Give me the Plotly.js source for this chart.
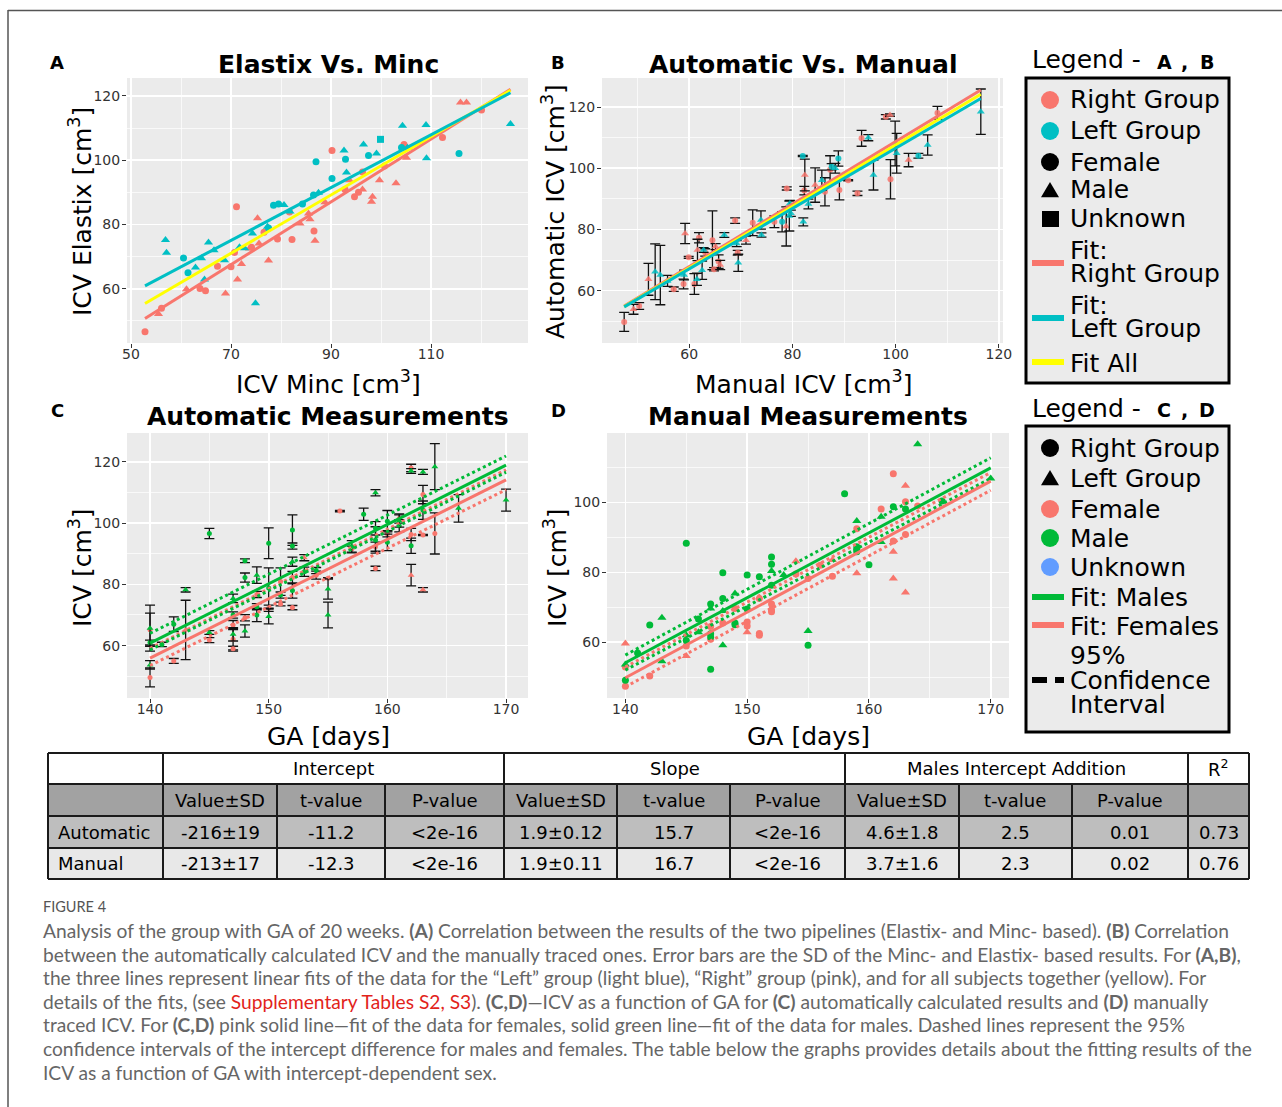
<!DOCTYPE html>
<html><head><meta charset="utf-8">
<script src="https://cdn.plot.ly/plotly-3.0.1.min.js"></script>
<style>body{margin:0;background:#fff}#chart{width:1282px;height:1107px}</style>
</head><body><div id="chart"></div>
<script>
// ---------------- DATA ----------------
// Panel A: [ICV Minc, ICV Elastix]
const aRightFemale = [[52.8,46.6],[56.1,53.9],[63.8,60.1],[64.9,59.4],[67.3,67.0],[70.0,66.8],[71.1,85.5],[70.7,71.3],[74.1,72.9],[76.6,77.6],[79.3,75.5],[81.7,83.9],[82.2,75.3],[86.6,78.0],[90.2,103.0],[92.8,90.9],[94.7,88.6],[95.5,90.0],[96.3,96.3],[100.7,98.2],[104.6,104.9],[112.3,107.1],[120.1,115.6]];
const aRightMale = [[55.5,52.1],[61.1,59.8],[68.9,58.5],[71.3,62.9],[72.1,67.7],[73.7,72.5],[75.3,81.9],[75.6,74.1],[77.5,68.8],[83.8,80.3],[85.5,83.4],[85.8,81.6],[86.8,74.9],[88.8,86.9],[93.7,93.8],[96.3,90.9],[98.3,88.6],[98.1,87.1],[99.7,93.8],[103.0,92.8],[105.1,100.8],[115.9,118.0],[117.1,118.0]];
const aLeftFemale = [[60.5,69.6],[61.4,65.0],[77.5,78.9],[78.5,86.0],[79.5,86.4],[84.3,86.4],[86.5,89.2],[87.0,99.5],[90.2,94.3],[92.9,100.3],[97.5,101.5],[104.1,104.0],[115.6,102.1]];
const aLeftMale = [[56.9,75.2],[57.1,71.2],[62.9,66.6],[64.1,69.5],[64.7,62.9],[65.5,74.4],[66.6,72.0],[68.7,68.9],[71.7,72.9],[72.7,72.6],[74.3,77.2],[74.9,55.5],[77.3,79.3],[80.6,86.1],[81.8,84.0],[87.5,89.9],[92.6,103.0],[93.1,96.2],[96.5,104.9],[99.1,102.1],[104.3,110.7],[105.3,103.9],[109.0,111.0],[109.1,100.6],[125.9,111.3]];
const aLeftUnknown = [[99.9,106.5]];
const aFitX = [52.8,125.9], aFitRight = [50.7,122.1], aFitLeft = [60.9,121.0], aFitAll = [55.4,121.8];

// Panel B: [Manual ICV, Automatic ICV, SD]
const bRightFemale = [[47.4,49.8,3.1],[50.3,55.0,1.1],[57.0,60.5,0.7],[58.9,62.2,1.6],[59.9,70.9,0.3],[61.0,62.2,3.4],[61.9,77.3,1.7],[63.1,72.5,1.2],[64.5,76.5,9.6],[64.8,67.0,0.5],[65.7,69.5,2.2],[68.9,82.9,0.9],[69.4,72.4,0.8],[72.3,82.2,4.2],[76.5,82.5,1.9],[78.9,93.4,0.5],[82.3,92.7,1.4],[86.3,92.3,4.6],[87.3,99.5,4.6],[89.1,92.9,3.2],[90.8,96.1,0.2],[92.6,91.8,0.7],[93.4,109.8,2.6],[98.1,116.8,0.7],[99.0,96.4,6.4],[108.1,118.1,2.1]];
const bRightMale = [[49.2,53.9,1.6],[52.1,63.7,5.2],[59.2,78.7,3.3],[61.6,73.3,3.5],[65.1,74.4,1.0],[66.0,68.4,1.5],[71.0,76.5,1.3],[78.8,81.0,6.4],[82.4,97.8,5.2],[84.4,94.5,5.6],[98.9,117.4,0.4],[102.5,102.7,2.2]];
const bLeftFemale = [[78.0,82.5,3.3],[82.0,104.0,0.2],[87.6,100.5,1.0],[88.9,103.2,2.5],[104.4,104.1,0.8]];
const bLeftMale = [[53.4,66.2,9.1],[54.4,65.1,9.7],[55.8,63.2,1.8],[59.0,65.1,1.6],[61.5,63.7,2.0],[62.5,66.7,3.0],[62.8,73.3,0.8],[66.8,78.2,0.8],[69.2,75.4,1.0],[69.5,69.1,2.8],[73.9,83.1,3.0],[74.0,78.2,0.7],[79.4,84.4,4.9],[79.5,88.5,1.0],[79.7,85.3,1.0],[82.1,82.5,1.3],[83.1,88.3,1.6],[85.7,96.1,3.3],[88.3,100.0,1.6],[94.7,110.0,1.0],[95.7,97.8,4.9],[99.9,108.1,7.3],[100.2,104.9,6.5],[106.2,107.6,3.3],[116.5,118.5,7.4]];
const bFitX = [47.4,116.5], bFitRight = [55.0,125.6], bFitLeft = [54.7,122.8], bFitAll = [54.8,124.2];

// Panel C: [GA days, automatic ICV, SD]
const cRightFemale = [[140,65.2,5.4],[140,49.6,3.1],[142,55.0,0.8],[145,61.8,0.8],[147,66.7,1.5],[147,62.1,3.5],[147,59.0,0.8],[148,69.1,1.0],[149,76.7,1.0],[150,72.2,1.0],[151,80.9,4.5],[151,73.6,0.6],[152,82.2,2.0],[152,72.4,0.7],[154,83.0,1.3],[155,82.0,0.2],[156,103.9,0.2],[157,91.5,1.0],[159,85.2,0.7],[159,92.3,1.5],[160,96.5,1.0],[161,101.5,1.5],[162,118.0,1.2],[162,96.3,2.0],[163,109.3,3.0],[163,96.1,0.2],[164,96.6,6.7]];
const cRightMale = [[140,61.0,0.8],[141,60.4,0.7],[142,67.0,2.4],[145,96.6,1.7],[147,70.0,1.0],[148,87.7,0.6],[148,82.2,1.5],[149,70.0,2.2],[149,72.7,1.0],[150,93.4,5.0],[150,78.8,6.6],[151,76.5,1.0],[152,97.7,5.0],[152,92.5,1.0],[152,78.0,2.5],[153,84.1,1.5],[154,84.5,1.0],[157,92.3,2.0],[158,102.9,2.0],[159,94.5,4.3],[159,98.3,2.2],[160,100.6,3.5],[160,93.7,2.7],[161,99.1,2.0],[162,92.6,2.5],[163,104.2,3.0]];
const cLeftFemale = [[143,65.1,9.7],[153,88.7,1.0],[162,83.0,3.5],[163,78.2,0.7]];
const cLeftMale = [[140,65.7,7.5],[140,53.7,1.4],[143,78.2,0.7],[145,64.3,0.6],[147,75.4,1.4],[147,63.7,2.2],[148,64.8,2.0],[149,83.0,2.7],[150,69.5,2.4],[152,87.4,1.5],[155,78.5,3.3],[155,70.0,4.2],[159,109.9,1.0],[161,100.7,2.0],[162,117.0,0.8],[163,116.7,0.8],[164,118.4,7.5],[166,104.8,4.5],[170,107.5,3.6]];
const cFitX = [140,170], cFitMale = [60.8,118.9], cFitFemale = [55.9,114.1];
const cMaleHi = [64.0,121.9], cMaleLo = [58.6,116.6], cFemaleHi = [59.1,117.4], cFemaleLo = [53.5,110.9];

// Panel D: [GA days, manual ICV]
const dRightFemale = [[140,52.9],[140,47.4],[142,50.3],[145,58.9],[147,60.8],[147,64.5],[148,65.5],[149,69.6],[150,65.8],[150,64.6],[151,62.5],[151,62.0],[151,72.5],[152,70.9],[152,69.2],[152,68.7],[154,79.5],[155,78.2],[156,82.0],[157,78.9],[159,92.5],[161,98.1],[162,108.2],[162,89.0],[163,100.2],[163,90.8],[164,99.0]];
const dRightMale = [[140,49.1],[141,56.9],[142,64.9],[145,88.3],[145,60.5],[146,66.6],[147,70.9],[147,62.4],[147,61.5],[147,52.2],[148,79.9],[148,72.5],[149,65.5],[149,65.0],[150,79.2],[150,69.5],[151,78.7],[152,84.4],[152,82.3],[152,76.3],[155,59.1],[158,102.5],[159,87.3],[159,86.5],[159,85.9],[160,82.2],[162,98.8],[163,98.1],[166,100.4]];
const dLeftFemale = [[140,59.6],[145,56.0],[150,62.8],[154,83.2],[157,83.5],[159,79.7],[162,85.9],[162,78.2],[163,104.8],[163,74.2]];
const dLeftMale = [[140,53.6],[143,67.0],[143,54.5],[145,62.0],[146,62.8],[147,69.6],[148,68.9],[148,59.1],[149,73.9],[152,80.4],[153,79.2],[155,63.2],[159,94.7],[161,95.9],[161,88.7],[164,116.7],[170,106.9]];
const dFitX = [140,170], dFitMale = [54.1,109.9], dFitFemale = [49.8,106.1];
const dMaleHi = [56.3,112.8], dMaleLo = [52.0,106.9], dFemaleHi = [52.9,108.6], dFemaleLo = [47.2,103.5];

// Table
const tableGroups = ['Intercept','Slope','Males Intercept Addition','R<sup>2</sup>'];
const tableSubHeads = ['Value±SD','t-value','P-value','Value±SD','t-value','P-value','Value±SD','t-value','P-value',''];
const tableRowNames = ['Automatic','Manual'];
const tableAutomatic = ['-216±19','-11.2','<2e-16','1.9±0.12','15.7','<2e-16','4.6±1.8','2.5','0.01','0.73'];
const tableManual = ['-213±17','-12.3','<2e-16','1.9±0.11','16.7','<2e-16','3.7±1.6','2.3','0.02','0.76'];

const legendABLabels = ['Right Group','Left Group','Female','Male','Unknown','Fit:','Right Group','Fit:','Left Group','Fit All'];
const legendCDLabels = ['Right Group','Left Group','Female','Male','Unknown','Fit: Males','Fit: Females','95%','Confidence','Interval'];

const captionLines = [
 'Analysis of the group with GA of 20 weeks. <b>(A)</b> Correlation between the results of the two pipelines (Elastix- and Minc- based). <b>(B)</b> Correlation',
 'between the automatically calculated ICV and the manually traced ones. Error bars are the SD of the Minc- and Elastix- based results. For <b>(A,B)</b>,',
 'the three lines represent linear fits of the data for the “Left” group (light blue), “Right” group (pink), and for all subjects together (yellow). For',
 'details of the fits, (see <span style="color:#e2231a">Supplementary Tables S2, S3</span>). <b>(C,D)</b>—ICV as a function of GA for <b>(C)</b> automatically calculated results and <b>(D)</b> manually',
 'traced ICV. For <b>(C,D)</b> pink solid line—fit of the data for females, solid green line—fit of the data for males. Dashed lines represent the 95%',
 'confidence intervals of the intercept difference for males and females. The table below the graphs provides details about the fitting results of the',
 'ICV as a function of GA with intercept-dependent sex.'
];

// ---------------- STYLE / LAYOUT ----------------
const W = 1282, H = 1107;
const PX = v => v / W, PY = v => 1 - v / H;
const F = 'DejaVu Sans, Verdana, sans-serif';
const RED = '#F8766D', CYAN = '#00BFC4', YEL = '#FFFF00', GRN = '#00BA38', BLUE = '#619CFF';

const traces = [];
function pts(arr, xa, ya, color, symbol, size, withErr, opacity) {
  const t = {
    type: 'scatter', mode: 'markers', xaxis: xa, yaxis: ya, showlegend: false, hoverinfo: 'x+y',
    x: arr.map(p => p[0]), y: arr.map(p => p[1]),
    marker: {color: color, symbol: symbol, size: size, opacity: opacity || 1, line: {width: 0}}
  };
  if (withErr) t.error_y = {type: 'data', array: arr.map(p => p[2]), visible: true, color: '#111', thickness: 1.3, width: 5};
  traces.push(t);
}
function line(xs, ys, xa, ya, color, dash, width) {
  traces.push({type: 'scatter', mode: 'lines', x: xs, y: ys, xaxis: xa, yaxis: ya, showlegend: false, hoverinfo: 'skip',
    line: {color: color, width: width || 3, dash: dash || 'solid'}});
}

// A
pts(aRightFemale, 'x', 'y', RED, 'circle', 7);
pts(aRightMale, 'x', 'y', RED, 'triangle-up', 8);
pts(aLeftFemale, 'x', 'y', CYAN, 'circle', 7);
pts(aLeftMale, 'x', 'y', CYAN, 'triangle-up', 8);
pts(aLeftUnknown, 'x', 'y', CYAN, 'square', 7);
line(aFitX, aFitRight, 'x', 'y', RED);
line(aFitX, aFitAll, 'x', 'y', YEL);
line(aFitX, aFitLeft, 'x', 'y', CYAN);
// B
pts(bRightFemale, 'x2', 'y2', RED, 'circle', 6, true, 0.85);
pts(bRightMale, 'x2', 'y2', RED, 'triangle-up', 7, true, 0.85);
pts(bLeftFemale, 'x2', 'y2', CYAN, 'circle', 6, true, 0.85);
pts(bLeftMale, 'x2', 'y2', CYAN, 'triangle-up', 7, true, 0.85);
line(bFitX, bFitRight, 'x2', 'y2', RED);
line(bFitX, bFitAll, 'x2', 'y2', YEL);
line(bFitX, bFitLeft, 'x2', 'y2', CYAN);
// C
pts(cRightFemale, 'x3', 'y3', RED, 'circle', 5, true);
pts(cRightMale, 'x3', 'y3', GRN, 'circle', 5, true);
pts(cLeftFemale, 'x3', 'y3', RED, 'triangle-up', 6, true);
pts(cLeftMale, 'x3', 'y3', GRN, 'triangle-up', 6, true);
line(cFitX, cFemaleHi, 'x3', 'y3', RED, 'dot', 3);
line(cFitX, cFemaleLo, 'x3', 'y3', RED, 'dot', 3);
line(cFitX, cMaleHi, 'x3', 'y3', GRN, 'dot', 3);
line(cFitX, cMaleLo, 'x3', 'y3', GRN, 'dot', 3);
line(cFitX, cFitFemale, 'x3', 'y3', RED);
line(cFitX, cFitMale, 'x3', 'y3', GRN);
// D
pts(dRightFemale, 'x4', 'y4', RED, 'circle', 7);
pts(dRightMale, 'x4', 'y4', GRN, 'circle', 7);
pts(dLeftFemale, 'x4', 'y4', RED, 'triangle-up', 8);
pts(dLeftMale, 'x4', 'y4', GRN, 'triangle-up', 8);
line(dFitX, dFemaleHi, 'x4', 'y4', RED, 'dot', 3);
line(dFitX, dFemaleLo, 'x4', 'y4', RED, 'dot', 3);
line(dFitX, dMaleHi, 'x4', 'y4', GRN, 'dot', 3);
line(dFitX, dMaleLo, 'x4', 'y4', GRN, 'dot', 3);
line(dFitX, dFitFemale, 'x4', 'y4', RED);
line(dFitX, dFitMale, 'x4', 'y4', GRN);

function ax(l, r, range, tick0, dtick, mtick0, mdtick, anchor) {
  return {domain: [PX(l), PX(r)], range: range, tick0: tick0, dtick: dtick, tickmode: 'linear',
    showgrid: true, gridcolor: '#fff', gridwidth: 1.6, zeroline: false, showline: false,
    ticks: 'outside', ticklen: 4, tickcolor: '#333', tickwidth: 1, ticklabelstandoff: -6,
    tickfont: {family: F, size: 14, color: '#333'}, anchor: anchor, fixedrange: true,
    minor: {tick0: mtick0, dtick: mdtick, showgrid: true, gridcolor: '#fff', gridwidth: 0.7, ticks: ''}};
}
function ay(t, b, range, tick0, dtick, mtick0, mdtick, anchor) {
  const o = ax(0, 1, range, tick0, dtick, mtick0, mdtick, anchor);
  o.domain = [PY(b), PY(t)];
  o.ticklabelstandoff = -1;
  return o;
}

const layout = {
  width: W, height: H, margin: {l: 0, r: 0, t: 0, b: 0}, paper_bgcolor: '#fff', plot_bgcolor: '#EBEBEB',
  showlegend: false, hovermode: 'closest',
  xaxis: ax(127, 528, [49.2, 129.4], 50, 20, 50, 10, 'y'),
  yaxis: ay(78, 343, [43.1, 125.6], 60, 20, 60, 10, 'x'),
  xaxis2: ax(602, 1003, [43.1, 120.8], 60, 20, 60, 10, 'y2'),
  yaxis2: ay(78, 343, [42.9, 129.5], 60, 20, 60, 10, 'x2'),
  xaxis3: ax(127, 528, [138.06, 171.85], 140, 10, 140, 5, 'y3'),
  yaxis3: ay(433, 698, [42.9, 129.4], 60, 20, 60, 10, 'x3'),
  xaxis4: ax(607, 1009, [138.49, 171.5], 140, 10, 140, 5, 'y4'),
  yaxis4: ay(433, 698, [44, 119.9], 60, 20, 60, 10, 'x4'),
  shapes: [], annotations: []
};
const S = layout.shapes, A = layout.annotations;
function txt(x, y, text, size, opts) {
  A.push(Object.assign({xref: 'paper', yref: 'paper', x: PX(x), y: PY(y), text: text, showarrow: false,
    xanchor: 'center', yanchor: 'middle', font: {family: F, size: size, color: '#000'}}, opts || {}));
}
function rect(x0, y0, x1, y1, fill, lc, lw) {
  S.push({type: 'rect', xref: 'paper', yref: 'paper', x0: PX(x0), x1: PX(x1), y0: PY(y1), y1: PY(y0),
    fillcolor: fill, line: {color: lc || 'rgba(0,0,0,0)', width: lw || 0}, layer: 'above'});
}
function seg(x0, y0, x1, y1, color, w, dash) {
  S.push({type: 'line', xref: 'paper', yref: 'paper', x0: PX(x0), x1: PX(x1), y0: PY(y0), y1: PY(y1),
    line: {color: color, width: w, dash: dash || 'solid'}, layer: 'above'});
}
function circ(cx, cy, r, color) {
  S.push({type: 'circle', xref: 'paper', yref: 'paper', x0: PX(cx - r), x1: PX(cx + r), y0: PY(cy + r), y1: PY(cy - r),
    fillcolor: color, line: {width: 0}, layer: 'above'});
}
function tri(cx, cy, r, color) {
  S.push({type: 'path', xref: 'paper', yref: 'paper', fillcolor: color, line: {width: 0}, layer: 'above',
    path: `M ${PX(cx - r)} ${PY(cy + r * 0.8)} L ${PX(cx + r)} ${PY(cy + r * 0.8)} L ${PX(cx)} ${PY(cy - r * 0.9)} Z`});
}

// page frame
seg(8, 10.5, 1282, 10.5, '#555', 1.5);
seg(8, 10, 8, 1107, '#555', 1.5);

// panel letters and titles
txt(57, 62, '<b>A</b>', 18); txt(558, 62, '<b>B</b>', 18);
txt(57, 410, '<b>C</b>', 18); txt(558, 410, '<b>D</b>', 18);
txt(328, 64, '<b>Elastix Vs. Minc</b>', 25);
txt(803, 64, '<b>Automatic Vs. Manual</b>', 25);
txt(328, 417, '<b>Automatic Measurements</b>', 25);
txt(808, 417, '<b>Manual Measurements</b>', 25);
// axis titles
txt(328, 382, 'ICV Minc [cm<sup>3</sup>]', 25);
txt(80, 212, 'ICV Elastix [cm<sup>3</sup>]', 25, {textangle: -90});
txt(803, 382, 'Manual ICV [cm<sup>3</sup>]', 25);
txt(553, 212, 'Automatic ICV [cm<sup>3</sup>]', 25, {textangle: -90});
txt(328, 736, 'GA [days]', 25);
txt(80, 568, 'ICV [cm<sup>3</sup>]', 25, {textangle: -90});
txt(808, 736, 'GA [days]', 25);
txt(555, 568, 'ICV [cm<sup>3</sup>]', 25, {textangle: -90});

// legend A,B
txt(1030, 60, 'Legend -', 25, {xanchor: 'left'});
txt(1164, 62, '<b>A</b>', 19); txt(1184, 62, '<b>,</b>', 19); txt(1207, 62, '<b>B</b>', 19);
rect(1026, 78, 1229, 383, '#EBEBEB', '#000', 3);
const abY = [100, 131, 162, 190, 219, 250, 274, 305, 328, 363];
legendABLabels.forEach((t, i) => txt(1068, abY[i], t, 25, {xanchor: 'left'}));
circ(1050, 100, 9, RED); circ(1050, 131, 9, CYAN); circ(1050, 162, 9, '#000');
tri(1050, 190, 9, '#000'); rect(1042, 211, 1059, 227, '#000');
seg(1032, 263, 1064, 263, RED, 6); seg(1032, 318, 1064, 318, CYAN, 6); seg(1032, 362, 1064, 362, YEL, 6);

// legend C,D
txt(1030, 408, 'Legend -', 25, {xanchor: 'left'});
txt(1164, 410, '<b>C</b>', 19); txt(1184, 410, '<b>,</b>', 19); txt(1207, 410, '<b>D</b>', 19);
rect(1026, 426, 1229, 732, '#EBEBEB', '#000', 3);
const cdY = [448, 478, 509, 538, 567, 597, 626, 655, 680, 704];
legendCDLabels.forEach((t, i) => txt(1068, cdY[i], t, 25, {xanchor: 'left'}));
circ(1050, 448, 9, '#000'); tri(1050, 478, 9, '#000');
circ(1050, 509, 9, RED); circ(1050, 538, 9, GRN); circ(1050, 567, 9, BLUE);
seg(1032, 597, 1064, 597, GRN, 6); seg(1032, 625, 1064, 625, RED, 6);
seg(1032, 680, 1047, 680, '#000', 6); seg(1055, 680, 1064, 680, '#000', 6);

// table
const colX = [48, 163, 277, 385, 504, 617, 730, 845, 959, 1072, 1188, 1249];
const rowY = [753, 784, 816, 848, 879];
rect(48, 753, 1249, 784, '#FFFFFF');
rect(48, 784, 1249, 816, '#A2A2A2');
rect(48, 816, 1249, 848, '#BEBEBE');
rect(48, 848, 1249, 879, '#E8E8E8');
rowY.forEach(y => seg(48, y, 1249, y, '#1a1a1a', 2));
[48, 163, 504, 845, 1188, 1249].forEach(x => seg(x, 753, x, 784, '#1a1a1a', 2));
colX.forEach(x => seg(x, 784, x, 879, '#1a1a1a', 2));
const groupSpan = [[163, 504], [504, 845], [845, 1188], [1188, 1249]];
tableGroups.forEach((g, i) => txt((groupSpan[i][0] + groupSpan[i][1]) / 2, 768, g, 18));
tableSubHeads.forEach((h, i) => { if (h) txt((colX[i + 1] + colX[i + 2]) / 2, 800, h, 18); });
txt(56, 832, tableRowNames[0], 18, {xanchor: 'left'});
txt(56, 863, tableRowNames[1], 18, {xanchor: 'left'});
tableAutomatic.forEach((v, i) => txt((colX[i + 1] + colX[i + 2]) / 2, 832, v.replace('<', '&lt;'), 18));
tableManual.forEach((v, i) => txt((colX[i + 1] + colX[i + 2]) / 2, 863, v.replace('<', '&lt;'), 18));

// caption
const CF = 'Lato, Open Sans, sans-serif';
txt(41, 906, 'FIGURE 4', 14.5, {xanchor: 'left', font: {family: CF, size: 14.5, color: '#555'}});
const capY = [930, 954, 977, 1001, 1024, 1048, 1072];
captionLines.forEach((t, i) => txt(41, capY[i], t, 19.2, {xanchor: 'left', font: {family: CF, size: 19.2, color: '#666'}}));

Plotly.newPlot('chart', traces, layout, {staticPlot: true, displayModeBar: false});
</script></body></html>
